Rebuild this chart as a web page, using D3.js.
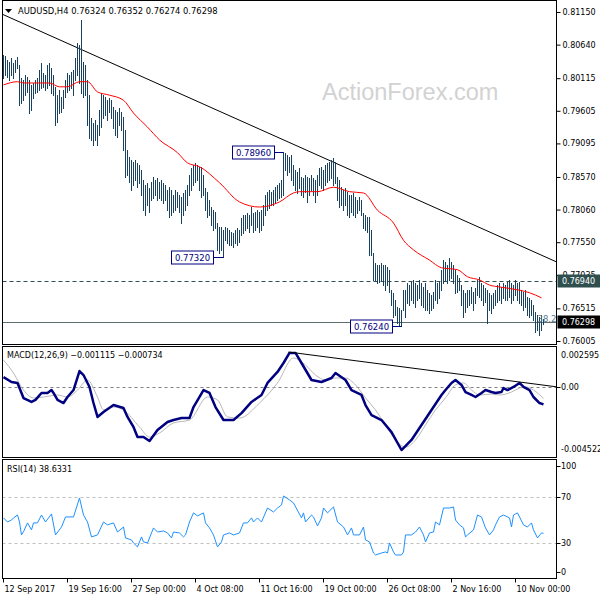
<!DOCTYPE html>
<html><head><meta charset="utf-8">
<script src="https://cdn.jsdelivr.net/npm/d3@7"></script>
<style>body{margin:0;background:#fff}svg{display:block}text{font-family:"DejaVu Sans",sans-serif}</style>
</head><body><svg id="c" width="600" height="600"></svg>
<script>
// ---------- DATA ----------
const symbol = "AUDUSD,H4";
const lastOHLC = [0.76324, 0.76352, 0.76274, 0.76298];
const highs = [
0.8048,0.8046,0.8040,0.8037,0.8043,0.8035,0.8040,0.8045,0.8032,0.8012,
0.8009,0.8017,0.8013,0.8009,0.8001,0.8004,0.8009,0.8012,0.8024,0.8035,
0.8020,0.8017,0.8032,0.8035,0.8027,0.8017,0.7998,0.7985,0.7993,0.7982,
0.7993,0.8009,0.8020,0.8017,0.8021,0.8024,0.8043,0.8067,0.8063,0.8102,
0.8037,0.8032,0.8009,0.7985,0.7949,0.7941,0.7946,0.7938,0.7962,0.7988,
0.7985,0.7982,0.7977,0.7981,0.7977,0.7967,0.7962,0.7959,0.7965,0.7959,
0.7951,0.7930,0.7899,0.7888,0.7884,0.7881,0.7884,0.7879,0.7876,0.7868,
0.7852,0.7845,0.7848,0.7840,0.7849,0.7857,0.7852,0.7855,0.7849,0.7852,
0.7848,0.7845,0.7837,0.7841,0.7837,0.7829,0.7837,0.7834,0.7829,0.7826,
0.7832,0.7837,0.7845,0.7860,0.7871,0.7876,0.7879,0.7876,0.7873,0.7873,
0.7860,0.7840,0.7834,0.7821,0.7810,0.7805,0.7802,0.7785,0.7779,0.7779,
0.7774,0.7779,0.7777,0.7774,0.7771,0.7769,0.7774,0.7777,0.7774,0.7793,
0.7798,0.7798,0.7801,0.7798,0.7810,0.7801,0.7802,0.7805,0.7802,0.7805,
0.7813,0.7829,0.7834,0.7837,0.7834,0.7837,0.7841,0.7845,0.7848,0.7852,
0.7896,0.7895,0.7891,0.7888,0.7891,0.7876,0.7868,0.7865,0.7871,0.7857,
0.7855,0.7860,0.7857,0.7855,0.7860,0.7855,0.7852,0.7860,0.7871,0.7873,
0.7868,0.7876,0.7879,0.7881,0.7884,0.7887,0.7881,0.7857,0.7852,0.7841,
0.7837,0.7840,0.7834,0.7829,0.7829,0.7832,0.7826,0.7821,0.7826,0.7821,
0.7801,0.7798,0.7795,0.7795,0.7774,0.7738,0.7723,0.7719,0.7719,0.7723,
0.7719,0.7719,0.7716,0.7712,0.7680,0.7676,0.7665,0.7654,0.7652,0.7649,
0.7680,0.7680,0.7691,0.7688,0.7693,0.7696,0.7691,0.7688,0.7696,0.7691,
0.7685,0.7691,0.7680,0.7676,0.7672,0.7677,0.7696,0.7691,0.7693,0.7712,
0.7727,0.7724,0.7719,0.7730,0.7724,0.7719,0.7712,0.7704,0.7699,0.7688,
0.7680,0.7676,0.7680,0.7680,0.7685,0.7677,0.7683,0.7696,0.7701,0.7691,
0.7688,0.7683,0.7680,0.7676,0.7672,0.7676,0.7680,0.7688,0.7691,0.7685,
0.7691,0.7688,0.7693,0.7696,0.7691,0.7688,0.7696,0.7691,0.7693,0.7680,
0.7677,0.7680,0.7669,0.7668,0.7665,0.7657,0.7646,0.7641,0.7638,0.7641,
0.76352];
const lows = [
0.8012,0.8017,0.8013,0.8009,0.8017,0.8012,0.8021,0.8027,0.7970,0.7973,
0.7977,0.7985,0.7990,0.7957,0.7962,0.7981,0.7988,0.7990,0.7993,0.7996,
0.7998,0.7993,0.7996,0.8001,0.7988,0.7985,0.7938,0.7943,0.7957,0.7959,
0.7965,0.7982,0.7990,0.7993,0.7996,0.7985,0.8009,0.8017,0.8004,0.7988,
0.7982,0.7985,0.7938,0.7918,0.7915,0.7907,0.7915,0.7907,0.7923,0.7935,
0.7949,0.7954,0.7946,0.7959,0.7949,0.7934,0.7923,0.7920,0.7938,0.7930,
0.7899,0.7857,0.7860,0.7849,0.7837,0.7845,0.7852,0.7841,0.7848,0.7829,
0.7805,0.7798,0.7813,0.7802,0.7821,0.7824,0.7829,0.7821,0.7824,0.7821,
0.7816,0.7821,0.7805,0.7795,0.7798,0.7802,0.7805,0.7810,0.7802,0.7785,
0.7798,0.7805,0.7813,0.7829,0.7837,0.7845,0.7849,0.7852,0.7837,0.7826,
0.7829,0.7805,0.7795,0.7798,0.7782,0.7774,0.7777,0.7743,0.7738,0.7743,
0.7732,0.7758,0.7754,0.7751,0.7751,0.7748,0.7754,0.7751,0.7755,0.7766,
0.7769,0.7774,0.7777,0.7771,0.7782,0.7771,0.7774,0.7779,0.7771,0.7774,
0.7782,0.7798,0.7805,0.7809,0.7813,0.7813,0.7816,0.7821,0.7824,0.7826,
0.7829,0.7868,0.7860,0.7865,0.7852,0.7845,0.7837,0.7832,0.7840,0.7829,
0.7826,0.7834,0.7818,0.7829,0.7837,0.7829,0.7818,0.7829,0.7845,0.7840,
0.7837,0.7845,0.7849,0.7852,0.7855,0.7845,0.7848,0.7821,0.7810,0.7813,
0.7805,0.7813,0.7798,0.7795,0.7802,0.7798,0.7795,0.7801,0.7805,0.7798,
0.7777,0.7774,0.7771,0.7735,0.7735,0.7696,0.7696,0.7691,0.7693,0.7696,
0.7688,0.7680,0.7688,0.7677,0.7657,0.7638,0.7641,0.7629,0.7626,0.7624,
0.7649,0.7638,0.7660,0.7657,0.7665,0.7660,0.7654,0.7665,0.7668,0.7657,
0.7654,0.7649,0.7649,0.7644,0.7649,0.7652,0.7665,0.7660,0.7668,0.7680,
0.7691,0.7696,0.7691,0.7696,0.7699,0.7691,0.7676,0.7677,0.7680,0.7657,
0.7638,0.7646,0.7654,0.7657,0.7660,0.7649,0.7660,0.7672,0.7669,0.7665,
0.7657,0.7662,0.7629,0.7649,0.7644,0.7652,0.7657,0.7662,0.7665,0.7660,
0.7668,0.7665,0.7665,0.7669,0.7660,0.7665,0.7672,0.7665,0.7660,0.7657,
0.7649,0.7654,0.7641,0.7638,0.7641,0.7633,0.7615,0.7618,0.7610,0.7618,
0.76274];
const maIdx = [0,7,10,15,23,28,32,38,42,47,53,60,65,72,78,87,92,98,108,118,128,138,145,148,157,165,173,180,187,195,200,205,213,219,227,232,238,243,248,258,263,269];
const maVal = [0.8001,0.8006,0.8004,0.8004,0.8004,0.7998,0.7998,0.8006,0.8006,0.7990,0.7985,0.7977,0.7957,0.7935,0.7915,0.7895,0.7879,0.7873,0.7848,0.7818,0.7810,0.7818,0.7832,0.7834,0.7834,0.7841,0.7834,0.7832,0.7805,0.7785,0.7758,0.7743,0.7727,0.7715,0.7712,0.7701,0.7696,0.7688,0.7685,0.7680,0.7676,0.7668];
const trendLine = [[-0.5, 0.81114], [277, 0.77235]];
const priceTicks = [0.81150,0.80640,0.80115,0.79605,0.79095,0.78570,0.78060,0.77550,0.77035,0.76515,0.76005];
const levelPrice = 0.76940;
const bidPrice = 0.76298;
const swingIdx = [140, 110, 199];
const swingPrice = [0.78960, 0.77320, 0.76240];
const fibText = "38.2";
const watermark = "ActionForex.com";

const macdTitle = "MACD(12,26,9)";
const macdLast = [-0.001115, -0.000734];
const macdIdx = [0,4,7,10,14,16,19,22,24,25,27,30,32,35,38,40,43,45,47,50,55,60,62,65,67,70,73,77,82,85,89,93,95,100,103,106,110,115,119,124,129,132,137,140,143,146,149,154,159,164,166,171,174,179,181,184,189,194,199,204,209,214,219,221,224,226,229,231,234,236,239,241,244,246,249,250,252,255,258,260,263,265,268,270];
const macdVal = [0.00065,0.00033,0.00027,-0.00071,-0.00096,-0.00083,-0.00038,-0.00038,-0.00019,-0.00038,-0.00083,-0.00103,-0.00064,-0.00019,0.00104,0.00078,0.00001,-0.00103,-0.00193,-0.00161,-0.00116,-0.00135,-0.00193,-0.00258,-0.00323,-0.00323,-0.00349,-0.00278,-0.00226,-0.00213,-0.00200,-0.00200,-0.00129,-0.00019,-0.00038,-0.00129,-0.00213,-0.00213,-0.00168,-0.00096,-0.00051,0.00027,0.00098,0.00156,0.00221,0.00221,0.00156,0.00046,0.00033,0.00059,0.00091,0.00046,-0.00019,-0.00051,-0.00116,-0.00181,-0.00213,-0.00291,-0.00407,-0.00342,-0.00245,-0.00148,-0.00051,-0.00019,0.00027,0.00046,0.00014,-0.00032,-0.00051,-0.00064,-0.00038,-0.00019,-0.00032,-0.00038,-0.00032,-0.00006,-0.00019,0.00001,0.00027,0.00001,-0.00019,-0.00064,-0.00103,-0.001115];
const signalIdx = [0,5,10,15,20,27,32,37,42,47,50,55,60,68,73,78,85,93,102,107,112,118,128,137,145,151,156,161,166,171,176,181,186,191,196,201,206,211,216,221,226,230,234,238,244,248,254,258,261,265,270];
const signalVal = [0.00175,0.00091,-0.00019,-0.00070,-0.00064,-0.00051,-0.00064,-0.00019,0.00046,-0.00064,-0.00148,-0.00129,-0.00148,-0.00258,-0.00323,-0.00297,-0.00232,-0.00213,-0.00064,-0.00083,-0.00193,-0.00200,-0.00103,0.00027,0.00188,0.00143,0.00078,0.00046,0.00059,0.00059,0.00014,-0.00070,-0.00148,-0.00245,-0.00342,-0.00388,-0.00342,-0.00245,-0.00148,-0.00070,0.00014,0.00027,-0.00019,-0.00051,-0.00045,-0.00051,-0.00032,-0.00006,0.00001,-0.00019,-0.000734];
const macdTrend = [[142.5, 0.00227], [277, 0.00001]];
const macdTickVals = [0.002595, 0, -0.004522];
const macdTickText = ["0.002595", "0.00", "-0.004522"];

const rsiTitle = "RSI(14)";
const rsiLast = 38.6331;
const rsiIdx = [0,2,4,5,7,8,9,10,12,14,15,17,19,21,24,26,29,31,35,38,40,42,44,47,50,52,55,57,60,61,64,65,67,69,70,72,75,77,80,82,84,85,88,90,91,93,95,97,100,101,103,105,107,109,110,113,115,118,120,122,124,125,127,129,132,135,137,139,140,143,145,149,150,151,154,155,157,159,160,162,165,167,170,172,174,175,178,180,181,183,185,186,189,191,192,193,195,196,199,200,201,204,206,208,210,211,213,215,216,218,220,223,225,226,228,230,231,232,235,237,239,241,243,245,246,248,250,253,254,255,257,260,262,264,265,267,269,270];
const rsiVal = [51.8,48.3,50.0,51.8,54.3,48.3,37.2,40.0,47.5,41.5,47.5,47.5,54.3,48.3,55.2,37.2,44.0,52.6,52.6,68.9,54.3,48.3,35.5,37.2,48.3,45.8,47.5,39.7,44.0,34.6,32.9,30.3,26.9,35.5,31.2,30.3,43.2,39.7,40.6,38.9,34.6,39.7,38.9,35.5,37.2,48.3,56.1,53.5,56.1,47.5,43.2,37.2,26.9,31.2,37.2,38.9,37.2,38.9,47.5,47.5,51.8,48.3,51.8,48.3,60.3,56.9,60.3,62.9,70.6,67.2,64.6,51.8,56.1,48.3,54.3,52.6,44.9,51.8,60.3,56.1,61.2,48.3,44.0,37.2,43.2,37.2,37.2,44.0,32.9,31.2,21.7,20.0,21.7,22.6,21.7,30.3,22.6,20.0,20.0,22.6,37.2,37.2,39.7,44.0,37.2,31.2,38.9,39.7,48.3,45.8,60.3,60.3,61.2,50.0,45.8,43.2,35.5,37.2,41.5,54.3,52.6,43.2,37.2,41.5,45.8,52.6,54.3,51.8,44.0,54.3,56.1,45.8,44.0,47.5,41.5,34.6,38.9,38.6331];
const rsiLevels = [70, 30];
const rsiTickVals = [100, 70, 30, 0];

const timeIdx = [0,32,64,96,128,160,192,224,256];
const timeLabels = ["12 Sep 2017","19 Sep 16:00","27 Sep 00:00","4 Oct 08:00","11 Oct 16:00","19 Oct 00:00","26 Oct 08:00","2 Nov 16:00","10 Nov 00:00"];

// ---------- LAYOUT ----------
const L = 2.5, R = 556.5;
const mainTop = 0.5, mainBot = 344.5;
const macdTop = 346.5, macdBot = 457.5;
const rsiTop = 459.5, rsiBot = 578.5;
const axisX = 562;

const svg = d3.select("#c");
svg.append("rect").attr("width",600).attr("height",600).attr("fill","#fff");

const x = d3.scaleLinear().domain([0, 277]).range([3.5, 557.5]);
const yP = d3.scaleLinear().domain([0.76005, 0.81150]).range([341, 12]);
const yM = d3.scaleLinear().domain([-0.004522, 0.002595]).range([457, 347]);
const yR = d3.scaleLinear().domain([0, 100]).range([578.3, 461.7]);

const defs = svg.append("defs");
function clip(id, y0, y1){ defs.append("clipPath").attr("id",id).append("rect").attr("x",L).attr("y",y0).attr("width",R-L).attr("height",y1-y0); }
clip("cm", mainTop, mainBot); clip("cd", macdTop, macdBot); clip("cr", rsiTop, rsiBot);

// ---------- MAIN PANEL ----------
const gm = svg.append("g").attr("clip-path","url(#cm)");
gm.append("text").attr("x",322).attr("y",100).text(watermark)
  .style("font-family","'Liberation Sans',Arial,sans-serif").style("font-size","23.5px").attr("fill","#d2d2d2");

gm.append("line").attr("x1",L).attr("x2",R).attr("y1",Math.round(yP(levelPrice))+0.5).attr("y2",Math.round(yP(levelPrice))+0.5)
  .attr("stroke","#2f4f4f").attr("stroke-dasharray","4,3");
gm.append("line").attr("x1",L).attr("x2",R).attr("y1",Math.round(yP(bidPrice))+0.5).attr("y2",Math.round(yP(bidPrice))+0.5)
  .attr("stroke","#5f6f6f");

gm.append("line").attr("x1",x(trendLine[0][0])).attr("y1",yP(trendLine[0][1]))
  .attr("x2",x(trendLine[1][0])).attr("y2",yP(trendLine[1][1])).attr("stroke","#000").attr("stroke-width",1);

gm.selectAll("line.bar").data(highs).join("line").attr("class","bar")
  .attr("x1",(d,i)=>x(i)).attr("x2",(d,i)=>x(i))
  .attr("y1",d=>Math.round(yP(d))).attr("y2",(d,i)=>Math.round(yP(lows[i]))+1)
  .attr("stroke","#18425f").attr("stroke-width",1);

const maData = maIdx.map((d,i)=>[d, maVal[i]]);
gm.append("path").datum(maData).attr("fill","none").attr("stroke","#ff0000").attr("stroke-width",1)
  .attr("d", d3.line().x(d=>x(d[0])).y(d=>yP(d[1])).curve(d3.curveMonotoneX));

// swing labels
const fmt5 = d3.format(".5f");
swingIdx.forEach((si,k)=>{
  const bx = x(si), by = Math.round(yP(swingPrice[k]))+0.5;
  const w = 42, h = 13, right = Math.round(bx - 10)+0.5;
  gm.append("line").attr("x1",right).attr("x2",bx).attr("y1",by).attr("y2",by).attr("stroke","#000080");
  gm.append("rect").attr("x",right-w).attr("y",by-h/2).attr("width",w).attr("height",h)
    .attr("fill","#fff").attr("stroke","#000080");
  gm.append("text").attr("x",right-w/2).attr("y",by+3.5).attr("text-anchor","middle")
    .style("font-size","8.5px").attr("fill","#000080").text(fmt5(swingPrice[k]));
});
gm.append("text").attr("x",x(267)).attr("y",yP(bidPrice)).text(fibText)
  .style("font-size","8.5px").attr("fill","#5b7a8a");

// header
svg.append("path").attr("d","M5,9L12,9L8.5,13Z").attr("fill","#000");
svg.append("text").attr("x",18).attr("y",14).style("font-size","8.4px").attr("fill","#000")
  .text(symbol + "  " + lastOHLC.map(fmt5).join(" "));

// price axis
const pAxis = svg.append("g").attr("transform",`translate(${R},0)`)
  .call(d3.axisRight(yP).tickValues(priceTicks).tickFormat(fmt5).tickSize(4).tickSizeOuter(0).tickPadding(2));
pAxis.select(".domain").remove();
pAxis.selectAll("text").style("font-family","'DejaVu Sans',sans-serif").style("font-size","8px").attr("fill","#000");
pAxis.selectAll("line").attr("stroke","#000");

function priceBox(p, fill){
  const cy = Math.round(yP(p));
  svg.append("rect").attr("x",R+1).attr("y",cy-6.5).attr("width",600-R).attr("height",13).attr("fill",fill);
  svg.append("text").attr("x",axisX).attr("y",cy+3).style("font-size","8px").attr("fill","#fff").text(fmt5(p));
}
priceBox(levelPrice, "#2f4f4f");
priceBox(bidPrice, "#000");

// ---------- MACD PANEL ----------
const gd = svg.append("g").attr("clip-path","url(#cd)");
gd.append("line").attr("x1",L).attr("x2",R).attr("y1",Math.round(yM(0))+0.5).attr("y2",Math.round(yM(0))+0.5)
  .attr("stroke","#808080").attr("stroke-dasharray","3,3");
gd.append("path").datum(signalIdx.map((d,i)=>[d,signalVal[i]])).attr("fill","none").attr("stroke","#b8b8b8").attr("stroke-width",1)
  .attr("d", d3.line().x(d=>x(d[0])).y(d=>yM(d[1])).curve(d3.curveMonotoneX));
gd.append("path").datum(macdIdx.map((d,i)=>[d,macdVal[i]])).attr("fill","none").attr("stroke","#000080").attr("stroke-width",2.5)
  .attr("stroke-linejoin","round")
  .attr("d", d3.line().x(d=>x(d[0])).y(d=>yM(d[1])));
gd.append("line").attr("x1",x(macdTrend[0][0])).attr("y1",yM(macdTrend[0][1]))
  .attr("x2",x(macdTrend[1][0])).attr("y2",yM(macdTrend[1][1])).attr("stroke","#000");
svg.append("text").attr("x",7).attr("y",358).style("font-size","8px").attr("fill","#000")
  .text(macdTitle + " " + macdLast.map(d3.format(".6f")).join(" "));
macdTickVals.forEach((v,k)=>{
  let cy = yM(v);
  if (k===0) cy += 8; else if (k===2) cy -= 8;
  svg.append("text").attr("x",axisX-1).attr("y",cy+3).style("font-size","8px").attr("fill","#000").text(macdTickText[k]);
  if (k===1) svg.append("line").attr("x1",R).attr("x2",R+4).attr("y1",Math.round(yM(v))+0.5).attr("y2",Math.round(yM(v))+0.5).attr("stroke","#000");
});

// ---------- RSI PANEL ----------
const gr = svg.append("g").attr("clip-path","url(#cr)");
rsiLevels.forEach(v=>{
  gr.append("line").attr("x1",L).attr("x2",R).attr("y1",Math.round(yR(v))+0.5).attr("y2",Math.round(yR(v))+0.5)
    .attr("stroke","#c0c0c0").attr("stroke-dasharray","3,3");
});
gr.append("path").datum(rsiIdx.map((d,i)=>[d,rsiVal[i]])).attr("fill","none").attr("stroke","#1e90ff").attr("stroke-width",1)
  .attr("d", d3.line().x(d=>x(d[0])).y(d=>yR(d[1])));
svg.append("text").attr("x",7).attr("y",472).style("font-size","8px").attr("fill","#000")
  .text(rsiTitle + " " + rsiLast.toFixed(4));
rsiTickVals.forEach(v=>{
  let cy = yR(v);
  if (v===100) cy += 4; else if (v===0) cy -= 6;
  svg.append("text").attr("x",axisX-1).attr("y",cy+3).style("font-size","8px").attr("fill","#000").text(v);
  svg.append("line").attr("x1",R).attr("x2",R+4).attr("y1",Math.round(cy)+0.5).attr("y2",Math.round(cy)+0.5).attr("stroke","#000");
});

// ---------- TIME AXIS ----------
timeIdx.forEach((ti,k)=>{
  const tx = Math.round(x(ti)) - 0.5;
  svg.append("line").attr("x1",tx).attr("x2",tx).attr("y1",rsiBot).attr("y2",rsiBot+4).attr("stroke","#000");
  svg.append("text").attr("x",tx+1).attr("y",592).style("font-size","8px").attr("fill","#000").text(timeLabels[k]);
});

// ---------- BORDERS ----------
[[mainTop,mainBot],[macdTop,macdBot],[rsiTop,rsiBot]].forEach(([t,b])=>{
  svg.append("rect").attr("x",L).attr("y",t).attr("width",R-L).attr("height",b-t)
    .attr("fill","none").attr("stroke","#000").attr("stroke-width",1);
});
</script></body></html>
